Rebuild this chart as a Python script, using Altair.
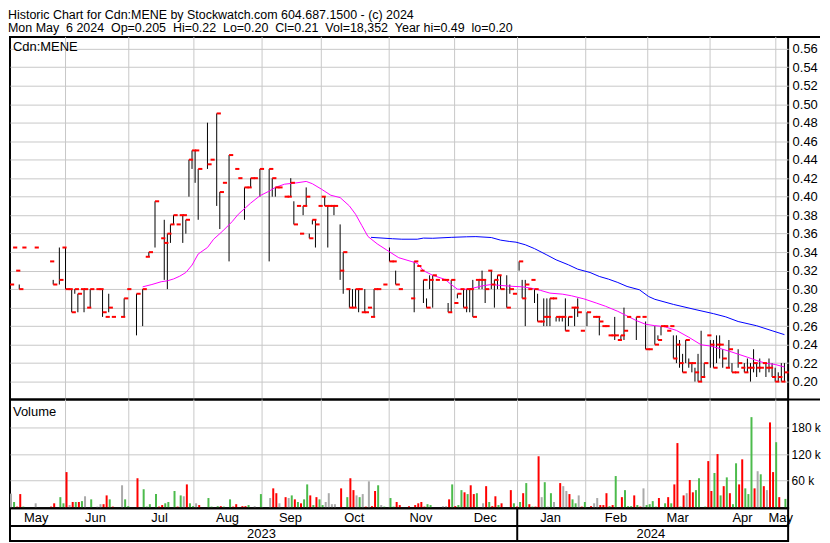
import altair as alt
import pandas as pd

FONT = "Liberation Sans"
RED, GREEN, GRAY = "#ff0000", "#4cbb4c", "#aaaaaa"
GRID = "#c8c8c8"

TITLE1 = "Historic Chart for Cdn:MENE by Stockwatch.com 604.687.1500 - (c) 2024"
TITLE2 = "Mon May  6 2024  Op=0.205  Hi=0.22  Lo=0.20  Cl=0.21  Vol=18,352  Year hi=0.49  lo=0.20".replace("  ", " \u00a0")

# ---- price bars (trading-day index, high, low, close) ----
may_day = [0, 1, 2, 3, 4, 8, 13, 14, 16, 17]
may_hi = [.33, .345, .32, .305, .345, .345, .33, .31, .345, .345]
may_lo = [.305, .345, .32, .30, .345, .345, .33, .305, .305, .345]
may_cl = [.305, .345, .32, .30, .345, .345, .33, .305, .31, .345]

jun_day = [18, 19, 20, 21, 22, 23, 24, 25, 26, 28, 29, 30, 31, 32, 33, 36, 37, 38]
jun_hi = [.345, .30, .30, .30, .295, .30, .30, .28, .30, .30, .30, .30, .27, .295, .27, .27, .29, .30]
jun_lo = [.30, .30, .275, .295, .275, .30, .275, .28, .28, .30, .30, .27, .27, .275, .27, .27, .27, .30]
jun_cl = [.30, .30, .275, .30, .295, .30, .30, .28, .30, .30, .30, .275, .27, .28, .27, .27, .29, .30]

jul_day = [41, 43, 44, 45, 47, 49, 50, 51, 52, 53, 54, 55, 56, 57, 58, 59]
jul_hi = [.295, .30, .335, .34, .395, .355, .375, .36, .37, .38, .37, .38, .38, .375, .44, .45]
jul_lo = [.25, .26, .335, .335, .345, .355, .31, .30, .35, .37, .37, .38, .35, .36, .40, .43]
jul_cl = [.295, .30, .335, .34, .395, .355, .35, .36, .37, .38, .37, .38, .38, .375, .44, .45]

aug_day = [60, 61, 64, 65, 67, 68, 69, 71, 73, 74, 76, 77, 78, 79, 81]
aug_hi = [.45, .43, .48, .44, .49, .405, .415, .445, .43, .42, .41, .41, .42, .42, .43]
aug_lo = [.415, .375, .43, .44, .39, .365, .415, .33, .43, .42, .375, .41, .41, .42, .40]
aug_cl = [.45, .43, .435, .44, .49, .405, .415, .445, .43, .42, .41, .41, .42, .42, .43]

sep_day = [84, 85, 86, 87, 89, 90, 91, 92, 93, 94, 95, 96, 97, 98, 99, 100]
sep_hi = [.43, .42, .41, .41, .40, .40, .42, .395, .39, .36, .39, .41, .36, .375, .375, .39]
sep_lo = [.33, .40, .40, .41, .40, .40, .40, .37, .39, .36, .38, .39, .355, .37, .345, .39]
sep_cl = [.43, .42, .41, .41, .40, .40, .415, .37, .39, .36, .39, .40, .355, .375, .37, .39]

oct_day = [101, 102, 103, 104, 105, 107, 108, 109, 110, 111, 112, 113, 114, 115, 116, 117, 118, 119, 121]
oct_hi = [.40, .40, .39, .39, .39, .37, .34, .30, .30, .30, .30, .30, .275, .30, .28, .27, .30, .30, .305]
oct_lo = [.40, .39, .345, .39, .38, .31, .295, .30, .28, .28, .28, .275, .275, .275, .28, .27, .27, .30, .305]
oct_cl = [.40, .39, .39, .39, .39, .32, .34, .30, .28, .28, .30, .30, .275, .275, .28, .27, .30, .30, .305]

nov_day = [123, 124, 125, 126, 130, 131, 132, 133, 134, 135, 136, 137, 138, 140, 141, 142, 143, 144]
nov_hi = [.345, .33, .32, .30, .29, .33, .325, .32, .31, .29, .315, .315, .31, .31, .31, .285, .31, .285]
nov_lo = [.33, .33, .305, .30, .29, .275, .325, .32, .285, .28, .30, .28, .31, .31, .31, .275, .275, .285]
nov_cl = [.33, .33, .305, .30, .29, .33, .325, .32, .31, .28, .31, .315, .31, .31, .31, .275, .31, .285]

dec_day = [145, 146, 147, 148, 149, 150, 151, 152, 153, 154, 155, 156, 157, 158, 159, 161, 162, 163]
dec_hi = [.295, .30, .30, .30, .30, .31, .31, .31, .32, .31, .32, .32, .31, .315, .315, .315, .305, .295]
dec_lo = [.29, .30, .28, .275, .275, .27, .31, .30, .30, .285, .32, .30, .28, .30, .30, .28, .295, .295]
dec_cl = [.295, .30, .28, .30, .30, .27, .31, .31, .31, .30, .32, .305, .31, .315, .30, .28, .30, .295]

jan_day = [165, 166, 167, 168, 169, 170, 171, 172, 173, 174, 175, 176, 177, 178, 179, 180, 181, 182, 183, 184, 185]
jan_hi = [.33, .31, .31, .30, .31, .30, .295, .265, .29, .29, .29, .29, .27, .27, .27, .29, .27, .28, .28, .29, .255]
jan_lo = [.32, .29, .26, .30, .31, .285, .265, .265, .26, .26, .26, .29, .265, .265, .265, .255, .26, .28, .26, .27, .255]
jan_cl = [.33, .29, .305, .30, .31, .30, .265, .265, .27, .27, .29, .29, .27, .27, .27, .255, .27, .28, .28, .275, .255]

feb_day = [187, 189, 190, 191, 192, 193, 194, 195, 196, 197, 198, 199, 200, 203, 205]
feb_hi = [.275, .27, .27, .27, .26, .26, .25, .25, .27, .245, .25, .28, .27, .27, .27]
feb_lo = [.26, .27, .27, .25, .26, .26, .25, .25, .245, .245, .245, .245, .27, .245, .27]
feb_cl = [.275, .27, .27, .265, .26, .26, .25, .25, .25, .245, .25, .255, .27, .27, .27]

mar_day = [206, 207, 209, 210, 211, 212, 213, 214, 215, 216, 217, 218, 219, 220, 221, 222, 223, 224, 225]
mar_hi = [.265, .235, .26, .25, .26, .26, .255, .26, .25, .25, .245, .23, .245, .225, .22, .215, .23, .255, .22]
mar_lo = [.235, .235, .24, .245, .25, .26, .255, .26, .225, .22, .215, .21, .22, .215, .21, .20, .20, .20, .205]
mar_cl = [.235, .235, .24, .245, .26, .26, .255, .26, .225, .24, .22, .21, .245, .22, .22, .21, .20, .205, .22]

apr_day = [226, 227, 228, 229, 230, 231, 232, 233, 234, 235, 236, 237, 238, 239, 240, 241, 242, 243, 244, 245, 246, 247]
apr_hi = [.25, .245, .245, .25, .25, .235, .215, .245, .22, .21, .235, .215, .22, .225, .22, .235, .22, .225, .22, .22, .225, .22]
apr_lo = [.25, .215, .215, .22, .225, .215, .215, .215, .21, .21, .215, .215, .21, .21, .20, .21, .205, .21, .22, .205, .21, .205]
apr_cl = [.25, .24, .215, .24, .24, .225, .215, .235, .21, .21, .22, .215, .21, .215, .215, .22, .215, .215, .22, .215, .215, .205]

may24_day = [248, 249, 250, 251]
may24_hi = [.215, .21, .22, .22]
may24_lo = [.20, .20, .20, .20]
may24_cl = [.20, .205, .20, .21]

# ---- volume (thousands of shares); direction u=up, d=down, n=unchanged ----
vol_day = [0, 1, 2, 3, 4, 8, 13, 14, 16, 17,
           18, 19, 20, 21, 22, 23, 24, 26, 28, 29, 30, 31, 32, 33, 36, 37, 38,
           41, 43, 44, 45, 47, 48, 49, 50, 51, 53, 54, 55, 56, 57, 58, 59,
           60, 61, 64, 65, 67, 68, 69, 71, 72, 73, 75, 76, 77, 79, 81,
           84, 85, 86, 87, 89, 90, 91, 92, 93, 94, 95, 96, 97, 98, 99, 100,
           101, 102, 103, 104, 105, 107, 109, 110, 111, 112, 113, 114, 115, 116, 117, 118, 119, 120, 121,
           123, 124, 125, 126, 129, 131, 132, 133, 134, 135, 136, 140, 141, 142, 143, 144,
           145, 146, 147, 148, 149, 150, 151, 153, 154, 155, 156, 157, 158, 159, 162, 163, 164,
           165, 166, 167, 168, 169, 170, 171, 172, 173, 174, 175, 176, 178, 179, 180, 181, 182, 183, 184, 185,
           186, 188, 189, 190, 191, 192, 193, 194, 195, 196, 198, 199, 200, 201, 202, 203, 204, 205,
           206, 207, 208, 209, 210, 212, 213, 214, 215, 216, 217, 218, 219, 220, 221, 222, 223, 225,
           226, 227, 228, 229, 230, 231, 232, 233, 234, 235, 236, 237, 238, 239, 240, 241, 242, 243, 244, 245, 246, 247,
           248, 249, 251]
vol_k = [30, 11, 0.5, 29, 0.5, 8, 0.5, 8, 22, 8,
         79, 4, 11, 11, 11, 13, 24, 17, 0.5, 6, 6, 26, 17, 0.5, 49, 17, 1.5,
         65, 40, 0.5, 6, 29, 0.5, 4, 8, 11, 36, 0.5, 26, 24, 51, 8, 1.5,
         8, 4, 20, 0.5, 1.5, 1.5, 0.5, 17, 0.5, 6, 1.5, 1.5, 4, 1.5, 29,
         20, 42, 31, 8, 22, 20, 26, 17, 11, 8, 17, 51, 26, 4, 22, 17,
         4, 11, 31, 6, 6, 42, 22, 65, 38, 26, 22, 29, 0.5, 58, 1.5, 36, 49, 4, 0.5,
         20, 0.5, 11, 4, 1.5, 4, 8, 11, 0.5, 6, 4, 1.5, 1.5, 17, 51, 1.5,
         4, 38, 33, 29, 49, 29, 31, 8, 47, 11, 1.5, 24, 4, 8, 38, 8, 0.5,
         11, 31, 54, 6, 0.5, 0.5, 115, 22, 56, 0.5, 31, 11, 54, 47, 36, 29, 17, 8, 26, 0.5,
         11, 1.5, 8, 20, 4, 4, 31, 1.5, 4, 70, 22, 38, 1.5, 1.5, 26, 4, 0.5, 42,
         4, 6, 13, 0.5, 20, 8, 22, 8, 51, 145, 0.5, 26, 31, 61, 33, 38, 65, 0.5,
         104, 36, 77, 120, 26, 47, 67, 31, 6, 99, 51, 108, 42, 29, 204, 42, 81, 74, 47, 38, 192, 79,
         147, 22, 18]
vol_dir_by_month = [
    "nuddundduu",
    "dndudununnddudnuu",
    "duuuudduuudunduu",
    "nduuuduuddddunu",
    "nddndnududuududu",
    "unnnnduddnundnddunu",
    "uuddddddduunndud",
    "uududdundudduddud",
    "udududdnunundnnduund",
    "udnndddududuuududn",
    "uuuudududdudndduuu",
    "ddudududuudduuudnudndd",
    "udu",
]
vol_dir = list("".join(vol_dir_by_month))

# ---- moving averages ----
ma_short_day = [43, 46, 49, 51, 53, 55, 57, 59, 61, 64, 66, 69, 72, 74, 78, 81, 84, 86, 89, 93,
                96, 98, 101, 104, 107, 110, 112, 114, 116, 119, 122, 126, 130, 132, 134, 137, 141, 143, 145, 147,
                150, 153, 156, 159, 163, 166, 169, 172, 175, 179, 182, 186, 190, 193, 197, 200, 203, 206, 209, 212,
                216, 220, 224, 227, 231, 234, 239, 243, 245, 248, 251]
ma_short_val = [.3025, .305, .308, .309, .311, .314, .318, .326, .338, .345, .354, .363, .373, .381, .393, .401, .406, .41, .4135, .415,
                .4165, .414, .408, .4015, .399, .39, .381, .369, .357, .349, .3425, .334, .330, .328, .320, .315, .3105, .305, .300, .2996,
                .301, .3035, .305, .304, .303, .3025, .301, .2986, .2957, .2946, .2928, .2895, .285, .2815, .276, .271, .266, .262, .2605, .2595,
                .2554, .248, .2398, .2385, .235, .2319, .2264, .2217, .2199, .2185, .2158]
ma_long_day = [117, 124, 127, 132, 134, 137, 143, 148, 151, 156, 159, 162, 164, 167, 170, 174, 177, 181, 184, 188,
               191, 194, 197, 200, 204, 207, 209, 215, 222, 228, 232, 236, 242, 247, 251]
ma_long_val = [.356, .3545, .354, .354, .3552, .355, .356, .3566, .3568, .3558, .353, .3515, .3508, .348, .3438, .337, .3317, .3263, .3216, .318,
               .3137, .3108, .3072, .3029, .2993, .292, .289, .2835, .278, .2735, .27, .265, .2604, .255, .2508]

# ---- axis furniture ----
price_ticks = [0.20, 0.22, 0.24, 0.26, 0.28, 0.30, 0.32, 0.34, 0.36, 0.38, 0.40, 0.42, 0.44, 0.46, 0.48, 0.50, 0.52, 0.54, 0.56]
volume_ticks = [60, 120, 180]
month_grid = [18.0, 38.5, 59.6, 81.7, 100.9, 122.9, 144.1, 164.5, 186.6, 206.7, 226.9, 248.2]
month_label_pos = [8.5, 27.7, 48.5, 70.5, 90.9, 111.6, 133.2, 154.0, 175.2, 196.4, 216.4, 237.4, 249.8]
month_names = ["May", "Jun", "Jul", "Aug", "Sep", "Oct", "Nov", "Dec", "Jan", "Feb", "Mar", "Apr", "May"]
year_sep = [164.4]
year_label_pos = [81.5, 207.7]
year_names = ["2023", "2024"]

# ---------------------------------------------------------------
W = 781
EXTRA = 32          # label column width that the frame lines extend over
xs = alt.Scale(domain=[0.0, 252.2], nice=False, zero=False)
py = alt.Scale(domain=[0.1806, 0.5728], nice=False, zero=False)
vy = alt.Scale(domain=[-3, 244], nice=False, zero=False)


def X(field):
    return alt.X(f"{field}:Q", scale=xs, axis=None)


price_df = pd.DataFrame({
    "day": may_day + jun_day + jul_day + aug_day + sep_day + oct_day + nov_day + dec_day + jan_day + feb_day + mar_day + apr_day + may24_day,
    "hi": may_hi + jun_hi + jul_hi + aug_hi + sep_hi + oct_hi + nov_hi + dec_hi + jan_hi + feb_hi + mar_hi + apr_hi + may24_hi,
    "lo": may_lo + jun_lo + jul_lo + aug_lo + sep_lo + oct_lo + nov_lo + dec_lo + jan_lo + feb_lo + mar_lo + apr_lo + may24_lo,
    "cl": may_cl + jun_cl + jul_cl + aug_cl + sep_cl + oct_cl + nov_cl + dec_cl + jan_cl + feb_cl + mar_cl + apr_cl + may24_cl,
})
vol_df = pd.DataFrame({"day": vol_day, "k": vol_k, "dir": vol_dir})
short_df = pd.DataFrame({"day": ma_short_day, "v": ma_short_val})
long_df = pd.DataFrame({"day": ma_long_day, "v": ma_long_val})
grid_df = pd.DataFrame({"pos": month_grid})
one = pd.DataFrame({"a": [0]})

yax_p = alt.Axis(orient="right", values=price_ticks, format=".2f", grid=True, gridColor=GRID, gridWidth=1,
                 ticks=False, domain=False, labelFont=FONT, labelFontSize=13, labelColor="black",
                 labelPadding=4, title=None)
yax_v = alt.Axis(orient="right", values=volume_ticks, labelExpr="datum.value + ' k'", grid=True, gridColor=GRID,
                 gridWidth=1, ticks=False, domain=False, labelFont=FONT, labelFontSize=12, labelColor="black",
                 labelPadding=3, title=None)

PH, VH, MH, YH = 364, 109, 18, 15

# ---------------- price panel ----------------
p_vgrid = alt.Chart(grid_df).mark_rule(color=GRID, strokeWidth=1).encode(x=X("pos"))
p_hl = alt.Chart(price_df).mark_rule(color="black", strokeWidth=1).encode(
    x=X("day"), y=alt.Y("lo:Q", scale=py, axis=yax_p), y2="hi:Q")
p_short = alt.Chart(short_df).mark_line(color="#ff00ff", strokeWidth=1).encode(
    x=X("day"), y=alt.Y("v:Q", scale=py, axis=yax_p))
p_long = alt.Chart(long_df).mark_line(color="#0000ff", strokeWidth=1).encode(
    x=X("day"), y=alt.Y("v:Q", scale=py, axis=yax_p))
p_close = alt.Chart(price_df).transform_calculate(d2="datum.day + 1.35").mark_rule(
    color=RED, strokeWidth=2).encode(x=X("day"), x2="d2:Q", y=alt.Y("cl:Q", scale=py, axis=yax_p))
p_label = alt.Chart(pd.DataFrame({"t": ["Cdn:MENE"]})).mark_text(
    align="left", baseline="middle", font=FONT, fontSize=13, color="black").encode(
    text="t:N", x=alt.value(3), y=alt.value(10))
p_top = alt.Chart(one).mark_rule(color="black", strokeWidth=2).encode(
    x=alt.value(W), x2=alt.value(W + EXTRA), y=alt.value(0))
price = alt.layer(p_vgrid, p_hl, p_short, p_long, p_close, p_label, p_top).properties(width=W, height=PH)

# ---------------- volume panel ----------------
v_vgrid = alt.Chart(grid_df).mark_rule(color=GRID, strokeWidth=1).encode(x=X("pos"))
v_bars = alt.Chart(vol_df).mark_rule(strokeWidth=2, xOffset=1).encode(
    x=X("day"), y=alt.Y("k:Q", scale=vy, axis=yax_v), y2=alt.datum(-3),
    color=alt.Color("dir:N", scale=alt.Scale(domain=["u", "d", "n"], range=[GREEN, RED, GRAY]), legend=None))
v_label = alt.Chart(pd.DataFrame({"t": ["Volume"]})).mark_text(
    align="left", baseline="middle", font=FONT, fontSize=13, color="black").encode(
    text="t:N", x=alt.value(3), y=alt.value(13))
v_top = alt.Chart(one).mark_rule(color="black", strokeWidth=2).encode(
    x=alt.value(W), x2=alt.value(W + EXTRA), y=alt.value(0))
volume = alt.layer(v_vgrid, v_bars, v_label, v_top).properties(width=W, height=VH)

# ---------------- month row ----------------
sep_df = pd.DataFrame({"pos": year_sep})
m_sep = alt.Chart(sep_df).mark_rule(color="black", strokeWidth=2).encode(x=X("pos"))
m_text = alt.Chart(pd.DataFrame({"pos": month_label_pos, "name": month_names})).mark_text(
    font=FONT, fontSize=13, baseline="middle", color="black").encode(x=X("pos"), y=alt.value(MH / 2 + 0.5), text="name:N")
months = alt.layer(m_sep, m_text).properties(width=W, height=MH)

# ---------------- year row ----------------
y_sep = alt.Chart(sep_df).mark_rule(color="black", strokeWidth=2).encode(x=X("pos"))
y_text = alt.Chart(pd.DataFrame({"pos": year_label_pos, "name": year_names})).mark_text(
    font=FONT, fontSize=13, baseline="middle", color="black").encode(x=X("pos"), y=alt.value(YH / 2 + 0.5), text="name:N")
years = alt.layer(y_sep, y_text).properties(width=W, height=YH)

chart = alt.vconcat(price, volume, months, years, spacing=0, bounds="flush").properties(
    title=alt.TitleParams(text=[TITLE1, TITLE2], anchor="start", font=FONT, fontSize=12.5,
                          fontWeight="normal", color="black", lineHeight=12.5, offset=0.5),
    padding={"left": 0, "top": 0, "right": 0, "bottom": 0},
).configure_view(stroke="black", strokeWidth=2).configure_concat(spacing=0)

chart.save("out.html", embed_options={"renderer": "svg", "actions": False})
